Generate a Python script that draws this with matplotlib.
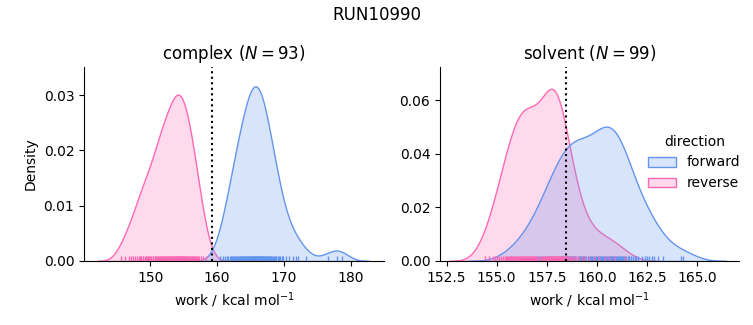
import matplotlib
matplotlib.use("Agg")
import matplotlib.pyplot as plt
import numpy as np
import pandas as pd
import seaborn as sns
from matplotlib.patches import Patch
from matplotlib.colors import to_rgba

phases = ["complex", "solvent"]
directions = ["forward", "reverse"]
colors = {"forward": "cornflowerblue", "reverse": "hotpink"}

complex_forward = [
    160.5, 160.9,
    161.2, 161.5, 161.7, 161.9,
    162.1, 162.25, 162.4, 162.55, 162.7, 162.8, 162.95,
    163.05, 163.15, 163.3, 163.4, 163.5, 163.6, 163.7, 163.8, 163.9,
    164.0, 164.1, 164.2, 164.3, 164.4, 164.5, 164.55, 164.65, 164.75, 164.85, 164.95,
    165.0, 165.1, 165.15, 165.2, 165.3, 165.35, 165.4, 165.5, 165.55, 165.6, 165.7, 165.75, 165.85, 165.95,
    166.0, 166.1, 166.15, 166.2, 166.3, 166.35, 166.4, 166.5, 166.55, 166.6, 166.7, 166.75, 166.85, 166.95,
    167.0, 167.1, 167.2, 167.3, 167.4, 167.5, 167.6, 167.7, 167.8, 167.9,
    168.0, 168.15, 168.3, 168.4, 168.5, 168.65, 168.8, 168.9,
    169.1, 169.3, 169.5, 169.7, 169.9,
    170.3, 170.8, 171.4, 171.8, 172.1, 173.4, 176.6, 178.0, 178.7,
]
complex_reverse = [
    145.7,
    146.2, 146.8,
    147.1, 147.5, 147.8,
    148.1, 148.3, 148.5, 148.7, 148.9,
    149.0, 149.2, 149.4, 149.5, 149.7, 149.9,
    150.0, 150.2, 150.4, 150.5, 150.7, 150.8, 150.95,
    151.05, 151.2, 151.3, 151.4, 151.5, 151.6, 151.7, 151.8, 151.9,
    152.0, 152.1, 152.2, 152.3, 152.4, 152.5, 152.6, 152.7, 152.8, 152.9,
    153.0, 153.1, 153.2, 153.3, 153.4, 153.5, 153.6, 153.65, 153.7, 153.8, 153.85, 153.95,
    154.0, 154.1, 154.2, 154.3, 154.3, 154.4, 154.5, 154.6, 154.6, 154.7, 154.8, 154.9, 154.9,
    155.0, 155.1, 155.2, 155.3, 155.4, 155.5, 155.55, 155.6, 155.7, 155.8, 155.9,
    156.05, 156.2, 156.35, 156.4, 156.5, 156.6, 156.75, 156.9,
    157.0, 157.1, 157.35, 157.6, 157.85,
    158.3,
]
solvent_forward = [
    155.7,
    156.1, 156.4,
    156.6, 156.95,
    157.05, 157.15, 157.25, 157.35, 157.45,
    157.55, 157.65, 157.7, 157.8, 157.9, 157.95,
    158.05, 158.1, 158.2, 158.25, 158.3, 158.35, 158.4, 158.45,
    158.5, 158.55, 158.6, 158.65, 158.7, 158.75, 158.8, 158.85, 158.9, 158.95,
    159.05, 159.1, 159.15, 159.2, 159.25, 159.3, 159.35, 159.4, 159.45,
    159.55, 159.65, 159.7, 159.75, 159.8, 159.9, 159.95,
    160.0, 160.05, 160.1, 160.15, 160.2, 160.25, 160.3, 160.35, 160.4, 160.45, 160.5,
    160.55, 160.6, 160.65, 160.7, 160.7, 160.75, 160.8, 160.85, 160.9, 160.9, 160.95, 161.0,
    161.05, 161.1, 161.15, 161.2, 161.25, 161.3, 161.35, 161.4, 161.45,
    161.55, 161.6, 161.7, 161.8, 161.9, 161.95,
    162.05, 162.25, 162.4, 162.5,
    162.6, 162.75, 162.85,
    163.05, 163.3,
    164.2, 164.3,
]
solvent_reverse = [
    154.4,
    154.6, 154.8, 154.9,
    155.0, 155.1, 155.2, 155.3, 155.4, 155.45,
    155.5, 155.55, 155.6, 155.65, 155.7, 155.75, 155.8, 155.85, 155.9, 155.95,
    156.0, 156.05, 156.1, 156.15, 156.2, 156.2, 156.25, 156.3, 156.35, 156.4, 156.4, 156.45, 156.5,
    156.55, 156.6, 156.6, 156.65, 156.7, 156.75, 156.8, 156.85, 156.9, 156.9, 156.95, 157.0,
    157.1, 157.2, 157.25, 157.3, 157.35, 157.4, 157.45, 157.5,
    157.55, 157.6, 157.6, 157.65, 157.7, 157.7, 157.75, 157.75, 157.8, 157.8, 157.85, 157.85,
    157.9, 157.9, 157.95, 158.0,
    158.0, 158.05, 158.1, 158.1, 158.15, 158.2, 158.2, 158.25, 158.3, 158.35, 158.4, 158.45, 158.5,
    158.55, 158.65, 158.7, 158.8, 158.9, 158.95,
    159.1, 159.25, 159.4,
    159.6, 159.85,
    160.1, 160.4,
    160.6, 160.9,
    161.4,
]
estimates = {"complex": 159.31, "solvent": 158.45}
titles = {"complex": "complex ($N = 93$)", "solvent": "solvent ($N = 99$)"}

rows = []
for ph, dr, vals in [("complex", "forward", complex_forward), ("complex", "reverse", complex_reverse),
                     ("solvent", "forward", solvent_forward), ("solvent", "reverse", solvent_reverse)]:
    for v in vals:
        rows.append({"phase": ph, "direction": dr, "work": v})
df = pd.DataFrame(rows)

g = sns.displot(data=df, x="work", hue="direction", col="phase", kind="kde", fill=True, rug=True,
                palette=colors, hue_order=directions, col_order=phases,
                facet_kws=dict(sharex=False, sharey=False), height=3.25, aspect=1.1)
fig = g.figure
if g._legend is not None:
    g._legend.remove()
fig.set_size_inches(7.53, 3.25)
fig.set_dpi(100)

ax1, ax2 = g.axes.flat
ax1.set_position([84 / 753, 64 / 325, 300 / 753, 194 / 325])
ax2.set_position([440 / 753, 64 / 325, 299 / 753, 194 / 325])

for ax, ph in zip([ax1, ax2], phases):
    ax.axvline(estimates[ph], color="black", linestyle=":", linewidth=1.5)
    ax.set_title(titles[ph], fontsize=12)
    ax.set_xlabel("work / kcal mol$^{-1}$")

ax1.set_ylabel("Density")
ax2.set_ylabel("")
ax1.set_xlim(140.1, 185.0)
ax1.set_xticks([150, 160, 170, 180])
ax1.set_ylim(0, 0.0351)
ax1.set_yticks([0.0, 0.01, 0.02, 0.03])
ax2.set_xlim(152.17, 167.1)
ax2.set_xticks([152.5, 155.0, 157.5, 160.0, 162.5, 165.0])
ax2.set_ylim(0, 0.0725)
ax2.set_yticks([0.0, 0.02, 0.04, 0.06])

handles = [Patch(facecolor=to_rgba(colors[d], 0.25), edgecolor=colors[d], linewidth=1.0) for d in directions]
fig.legend(handles, directions, title="direction", loc="center left", bbox_to_anchor=(0.844, 0.5),
           frameon=False, fontsize=10, title_fontsize=10)

fig.suptitle("RUN10990", fontsize=12)
fig.savefig("out.png", dpi=100)
